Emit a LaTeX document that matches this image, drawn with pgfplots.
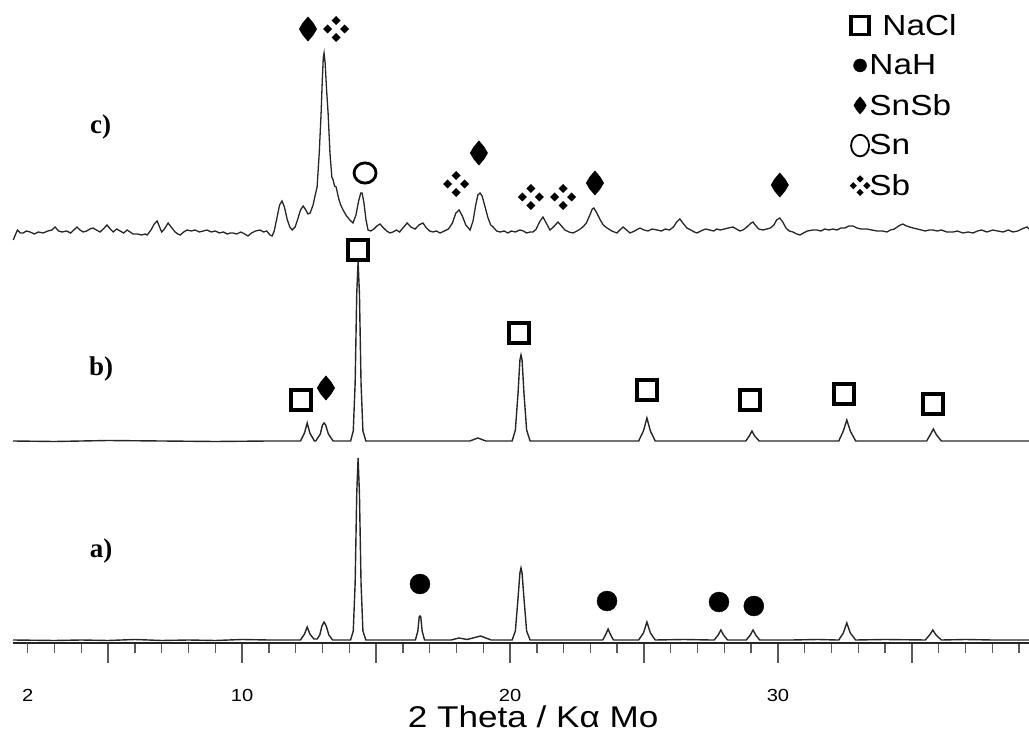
\documentclass[border=0pt]{standalone}
\usepackage{fontspec}
\setmainfont{Liberation Sans}
\newfontfamily\timesfont{Liberation Serif}
\usepackage{graphicx}
\usepackage{pgfplots}
\pgfplotsset{compat=1.18}

\newcommand\sbd[2]{\pgfpathmoveto{\pgfpoint{#1+4.5pt}{#2}}\pgfpathlineto{\pgfpoint{#1}{#2+4.5pt}}\pgfpathlineto{\pgfpoint{#1-4.5pt}{#2}}\pgfpathlineto{\pgfpoint{#1}{#2-4.5pt}}\pgfpathclose}
\pgfdeclareplotmark{sb}{\sbd{8.5pt}{0pt}\sbd{-8.5pt}{0pt}\sbd{0pt}{8.5pt}\sbd{0pt}{-8.5pt}\pgfusepathqfill}
\pgfdeclareplotmark{snsb}{%
  \pgfpathmoveto{\pgfpoint{0pt}{12.5pt}}%
  \pgfpathlineto{\pgfpoint{5.5pt}{6pt}}%
  \pgfpathlineto{\pgfpoint{9pt}{0pt}}%
  \pgfpathlineto{\pgfpoint{5.5pt}{-6pt}}%
  \pgfpathlineto{\pgfpoint{0pt}{-12.5pt}}%
  \pgfpathlineto{\pgfpoint{-5.5pt}{-6pt}}%
  \pgfpathlineto{\pgfpoint{-9pt}{0pt}}%
  \pgfpathlineto{\pgfpoint{-5.5pt}{6pt}}%
  \pgfpathclose\pgfusepathqfill}
\newcommand\sx[1]{\scalebox{1.15}[1]{#1}}

\begin{document}
\begin{tikzpicture}
\useasboundingbox (0pt,0pt) rectangle (1029pt,737pt);
\begin{axis}[
  at={(13pt,94pt)}, anchor=south west,
  scale only axis, width=1016pt, height=643pt,
  xmin=1.45, xmax=39.37, ymin=0, ymax=643,
  axis x line=bottom, axis y line=none,
  axis line style={-, line width=2.2pt, black!85},
  tick align=outside,
  major tick length=20pt, minor tick length=10pt,
  every tick/.style={line width=1.4pt, black!65},
  xtick={5,10,15,20,25,30,35},
  xticklabels={,\sx{10},,\sx{20},,\sx{30},},
  minor xtick={3,4,6,7,8,9,11,12,13,14,16,17,18,19,21,22,23,24,26,27,28,29,31,32,33,34,36,37,38,39},
  extra x ticks={2}, extra x tick labels={\sx{2}},
  extra x tick style={major tick length=10pt, tick align=outside, xticklabel style={yshift=-10pt}},
  /pgf/number format/assume math mode=true,
  xticklabel style={font=\fontsize{17.5}{20}\selectfont, anchor=base, yshift=-38pt},
  xlabel={\scalebox{1.17}[1]{2 Theta / Kα Mo}},
  xlabel style={font=\fontsize{30}{34}\selectfont, at={(rel axis cs:0.512,0)}, anchor=base, yshift=-84pt},
  clip=false,
  legend cell align=left,
  legend style={draw=none, fill=none, at={(axis cs:32.67,631)}, anchor=north west,
    font=\fontsize{29}{32}\selectfont, row sep=14pt, inner sep=0pt,
    /tikz/every odd column/.append style={column sep=-3pt}},
]
% trace a
\addplot[forget plot, black!85, line width=1.4pt] coordinates {
(1.45,3)(3,2.5)(4,3)(5,2.5)(6,3.5)(7,2.5)(8,3)(9,2.5)(10,3.5)(11,3)(12,3)
(12.18,3)(12.33,9)(12.43,16)(12.53,9)(12.68,4)
(12.8,4)(12.9,8)(12.98,17)(13.06,21)(13.14,17)(13.24,8)(13.38,3)
(13.9,3)
(14.05,3)(14.15,12)(14.22,60)(14.28,150)(14.33,185)(14.38,150)(14.44,60)(14.51,12)(14.62,3)
(15.5,3)(16.3,3)
(16.47,3)(16.56,12)(16.61,26)(16.64,27)(16.67,26)(16.72,12)(16.81,3)
(17.8,3)(18.1,5)(18.4,3.5)(18.9,7)(19.3,3)(19.9,3)
(20.08,3)(20.2,12)(20.3,45)(20.37,70)(20.41,75)(20.45,70)(20.52,45)(20.62,12)(20.75,3)
(22,3)(23.3,3)
(23.46,3)(23.58,9)(23.66,14)(23.74,9)(23.86,3)
(24.8,3)(24.98,10)(25.11,21)(25.24,10)(25.42,3)
(26.5,3.5)(27.5,3)
(27.62,3)(27.77,8)(27.87,13)(27.97,8)(28.12,3)
(28.82,3)(28.97,8)(29.07,13)(29.17,8)(29.32,3)
(30.5,3)(31.5,3.5)(32.2,3)
(32.27,3)(32.44,10)(32.57,20)(32.7,10)(32.9,3)
(34,3.5)(35.5,3)(35.66,8)(35.78,13)(35.9,8)(36.1,3)
(37,3.5)(38,3)(39.37,3)
};
% trace b
\addplot[forget plot, black!85, line width=1.4pt] coordinates {
(1.45,202)(3,201.5)(5,202.5)(7,202)(9,201.5)(11,202)(12.1,202)
(12.18,202)(12.33,210)(12.43,220)(12.53,210)(12.7,202)
(12.75,202)(12.92,209)(13.0,218)(13.06,220)(13.12,218)(13.22,209)(13.4,202)
(14.05,202)(14.15,212)(14.22,260)(14.28,350)(14.33,381)(14.38,350)(14.44,260)(14.51,212)(14.62,202)
(16,202)(18.5,202)(18.8,205)(19.1,202)
(20.08,202)(20.2,213)(20.3,250)(20.37,283)(20.41,288)(20.45,283)(20.52,250)(20.62,213)(20.75,202)
(23,202)(24.8,202)(24.98,212)(25.11,225)(25.24,212)(25.42,202)
(27,202)(28.8,202)(28.93,207)(29.03,212)(29.13,207)(29.3,202)
(31,202)(32.27,202)(32.44,212)(32.57,223)(32.7,212)(32.9,202)
(34,202)(35.55,202)(35.68,208)(35.8,214)(35.92,208)(36.1,202)
(37.5,202)(39.37,202)
};
% trace c
\addplot[forget plot, black!85, line width=1.3pt] coordinates {
(1.46,403)(1.55,409)(1.62,413)(1.72,410)(1.83,410)(1.95,412)(2.09,411)(2.25,409)(2.4,411)(2.57,410)
(2.75,412)(2.9,413)(3.02,416)(3.15,412)(3.28,411)(3.45,412)(3.6,410)(3.72,413)(3.84,416)(3.95,413)
(4.07,411)(4.2,412)(4.32,414)(4.44,415)(4.56,413)(4.7,411)(4.82,414)(4.96,418)(5.08,414)(5.19,411)
(5.32,414)(5.45,412)(5.58,410)(5.71,413)(5.82,411)(5.93,409)(6.1,409)(6.25,408)(6.38,409)(6.46,408)
(6.6,413)(6.72,419)(6.83,422)(6.92,416)(7.0,411)(7.1,414)(7.24,420)(7.35,416)(7.5,411)(7.6,409)
(7.69,408)(7.82,411)(7.95,413)(8.1,412)(8.25,413)(8.4,411)(8.55,412)(8.69,413)(8.85,411)(9.0,412)
(9.15,410)(9.3,411)(9.45,409)(9.56,410)(9.66,410)(9.8,409)(9.95,411)(10.1,409)(10.22,407)(10.35,410)
(10.5,412)(10.67,413)(10.8,411)(10.92,412)(11.04,408)(11.12,407)(11.2,412)(11.3,425)(11.4,438)(11.49,442)
(11.58,436)(11.68,424)(11.78,416)(11.87,413)(11.98,416)(12.08,424)(12.18,433)(12.28,437)(12.38,433)(12.46,429)
(12.54,430)(12.65,438)(12.73,448)(12.8,456)(12.88,490)(12.95,530)(12.99,560)(13.03,585)(13.06,590)(13.1,580)
(13.15,555)(13.21,530)(13.28,490)(13.35,466)(13.4,463)(13.45,457)(13.51,456)(13.6,445)(13.68,438)(13.77,433)
(13.9,427)(14.02,423)(14.14,420)(14.25,428)(14.35,442)(14.43,450)(14.48,450)(14.55,440)(14.62,424)(14.7,413)
(14.8,412)(14.92,414)(15.03,417)(15.15,419)(15.28,415)(15.4,412)(15.52,410)(15.63,411)(15.76,413)(15.88,411)
(16.0,415)(16.16,420)(16.3,416)(16.46,414)(16.6,418)(16.75,420)(16.88,415)(17.0,412)(17.12,411)(17.25,412)
(17.39,410)(17.55,412)(17.7,414)(17.85,420)(17.98,430)(18.1,433)(18.22,427)(18.35,418)(18.51,413)(18.62,422)
(18.72,438)(18.8,448)(18.88,450)(18.96,447)(19.06,437)(19.18,425)(19.28,418)(19.37,416)(19.5,412)(19.63,411)
(19.78,412)(19.92,410)(20.05,412)(20.2,411)(20.37,413)(20.5,412)(20.62,410)(20.75,411)(20.86,411)(20.98,414)
(21.1,421)(21.23,426)(21.35,420)(21.49,413)(21.62,416)(21.79,421)(21.92,417)(22.05,413)(22.2,411)(22.35,410)
(22.5,412)(22.62,414)(22.72,416)(22.85,420)(22.98,428)(23.07,434)(23.13,435)(23.22,431)(23.35,424)(23.48,418)
(23.62,415)(23.8,412)(23.99,410)(24.1,413)(24.22,416)(24.35,413)(24.48,410)(24.65,412)(24.85,415)(25.0,413)
(25.15,412)(25.3,414)(25.49,413)(25.65,412)(25.8,414)(25.95,413)(26.1,416)(26.22,421)(26.34,424)(26.45,420)
(26.6,415)(26.75,413)(26.88,411)(26.98,410)(27.12,412)(27.3,414)(27.45,413)(27.6,412)(27.72,414)(27.85,413)
(28.0,414)(28.15,415)(28.32,416)(28.45,414)(28.58,412)(28.69,413)(28.8,415)(28.92,418)(29.0,420)(29.07,421)
(29.15,418)(29.28,414)(29.44,413)(29.58,414)(29.72,415)(29.85,418)(29.95,423)(30.07,425)(30.18,421)(30.3,415)
(30.42,412)(30.56,411)(30.7,409)(30.82,408)(30.95,410)(31.1,412)(31.3,413)(31.46,413)(31.6,412)(31.75,414)
(31.9,413)(32.05,414)(32.2,413)(32.35,415)(32.5,415)(32.65,417)(32.8,417)(32.95,415)(33.1,414)(33.32,414)
(33.5,413)(33.7,412)(33.9,412)(34.07,411)(34.2,413)(34.35,414)(34.5,417)(34.66,419)(34.8,417)(34.92,416)
(35.04,415)(35.2,414)(35.35,413)(35.5,412)(35.65,413)(35.78,413)(35.95,412)(36.1,413)(36.3,411)(36.53,411)
(36.7,412)(36.9,410)(37.1,411)(37.28,410)(37.45,412)(37.6,413)(37.8,411)(38.02,413)(38.2,412)(38.4,411)
(38.6,413)(38.77,411)(38.95,412)(39.1,414)(39.29,416)(39.37,414)
};
% markers: NaH (a)
\addplot[forget plot, only marks, mark=*, mark size=10pt, black] coordinates {(16.64,59)(23.62,42)(27.8,41)(29.1,37)};
% NaCl squares (b)
\addplot[forget plot, only marks, mark=square, mark size=10pt, mark options={line width=4pt, black}] coordinates {(12.2,243)(14.33,393)(20.34,310)(25.11,253)(28.96,243)(32.46,249)(35.78,239)};
% SnSb diamonds
\addplot[forget plot, only marks, mark=snsb, black] coordinates {(13.13,255)(12.46,614)(18.84,490)(23.17,460)(30.07,458)};
% Sb clusters
\addplot[forget plot, only marks, mark=sb, black] coordinates {(13.51,614)(17.99,459)(20.78,446)(21.98,446)};
% Sn open circle
\addplot[forget plot, only marks, mark=o, mark size=11pt, mark options={line width=2.8pt, black, yscale=0.92}] coordinates {(14.59,470)};
% labels
\node[font=\timesfont\bfseries\fontsize{27}{30}\selectfont] at (axis cs:4.72,516) {c)};
\node[font=\timesfont\bfseries\fontsize{27}{30}\selectfont] at (axis cs:4.74,274) {b)};
\node[font=\timesfont\bfseries\fontsize{27}{30}\selectfont] at (axis cs:4.74,92) {a)};
% legend
\addlegendimage{only marks, mark=square, mark size=9pt, mark options={line width=3.5pt, black}}
\addlegendentry{\hspace*{13pt}\sx{NaCl}}
\addlegendimage{only marks, mark=*, mark size=6.5pt, black}
\addlegendentry{\sx{NaH}}
\addlegendimage{only marks, mark=snsb, mark options={scale=0.72, black}}
\addlegendentry{\sx{SnSb}}
\addlegendimage{only marks, mark=o, mark size=9pt, mark options={line width=1.8pt, black, yscale=1.2}}
\addlegendentry{\sx{Sn}}
\addlegendimage{only marks, mark=sb, mark options={scale=0.8, black}}
\addlegendentry{\sx{Sb}}
\end{axis}
\end{tikzpicture}
\end{document}
